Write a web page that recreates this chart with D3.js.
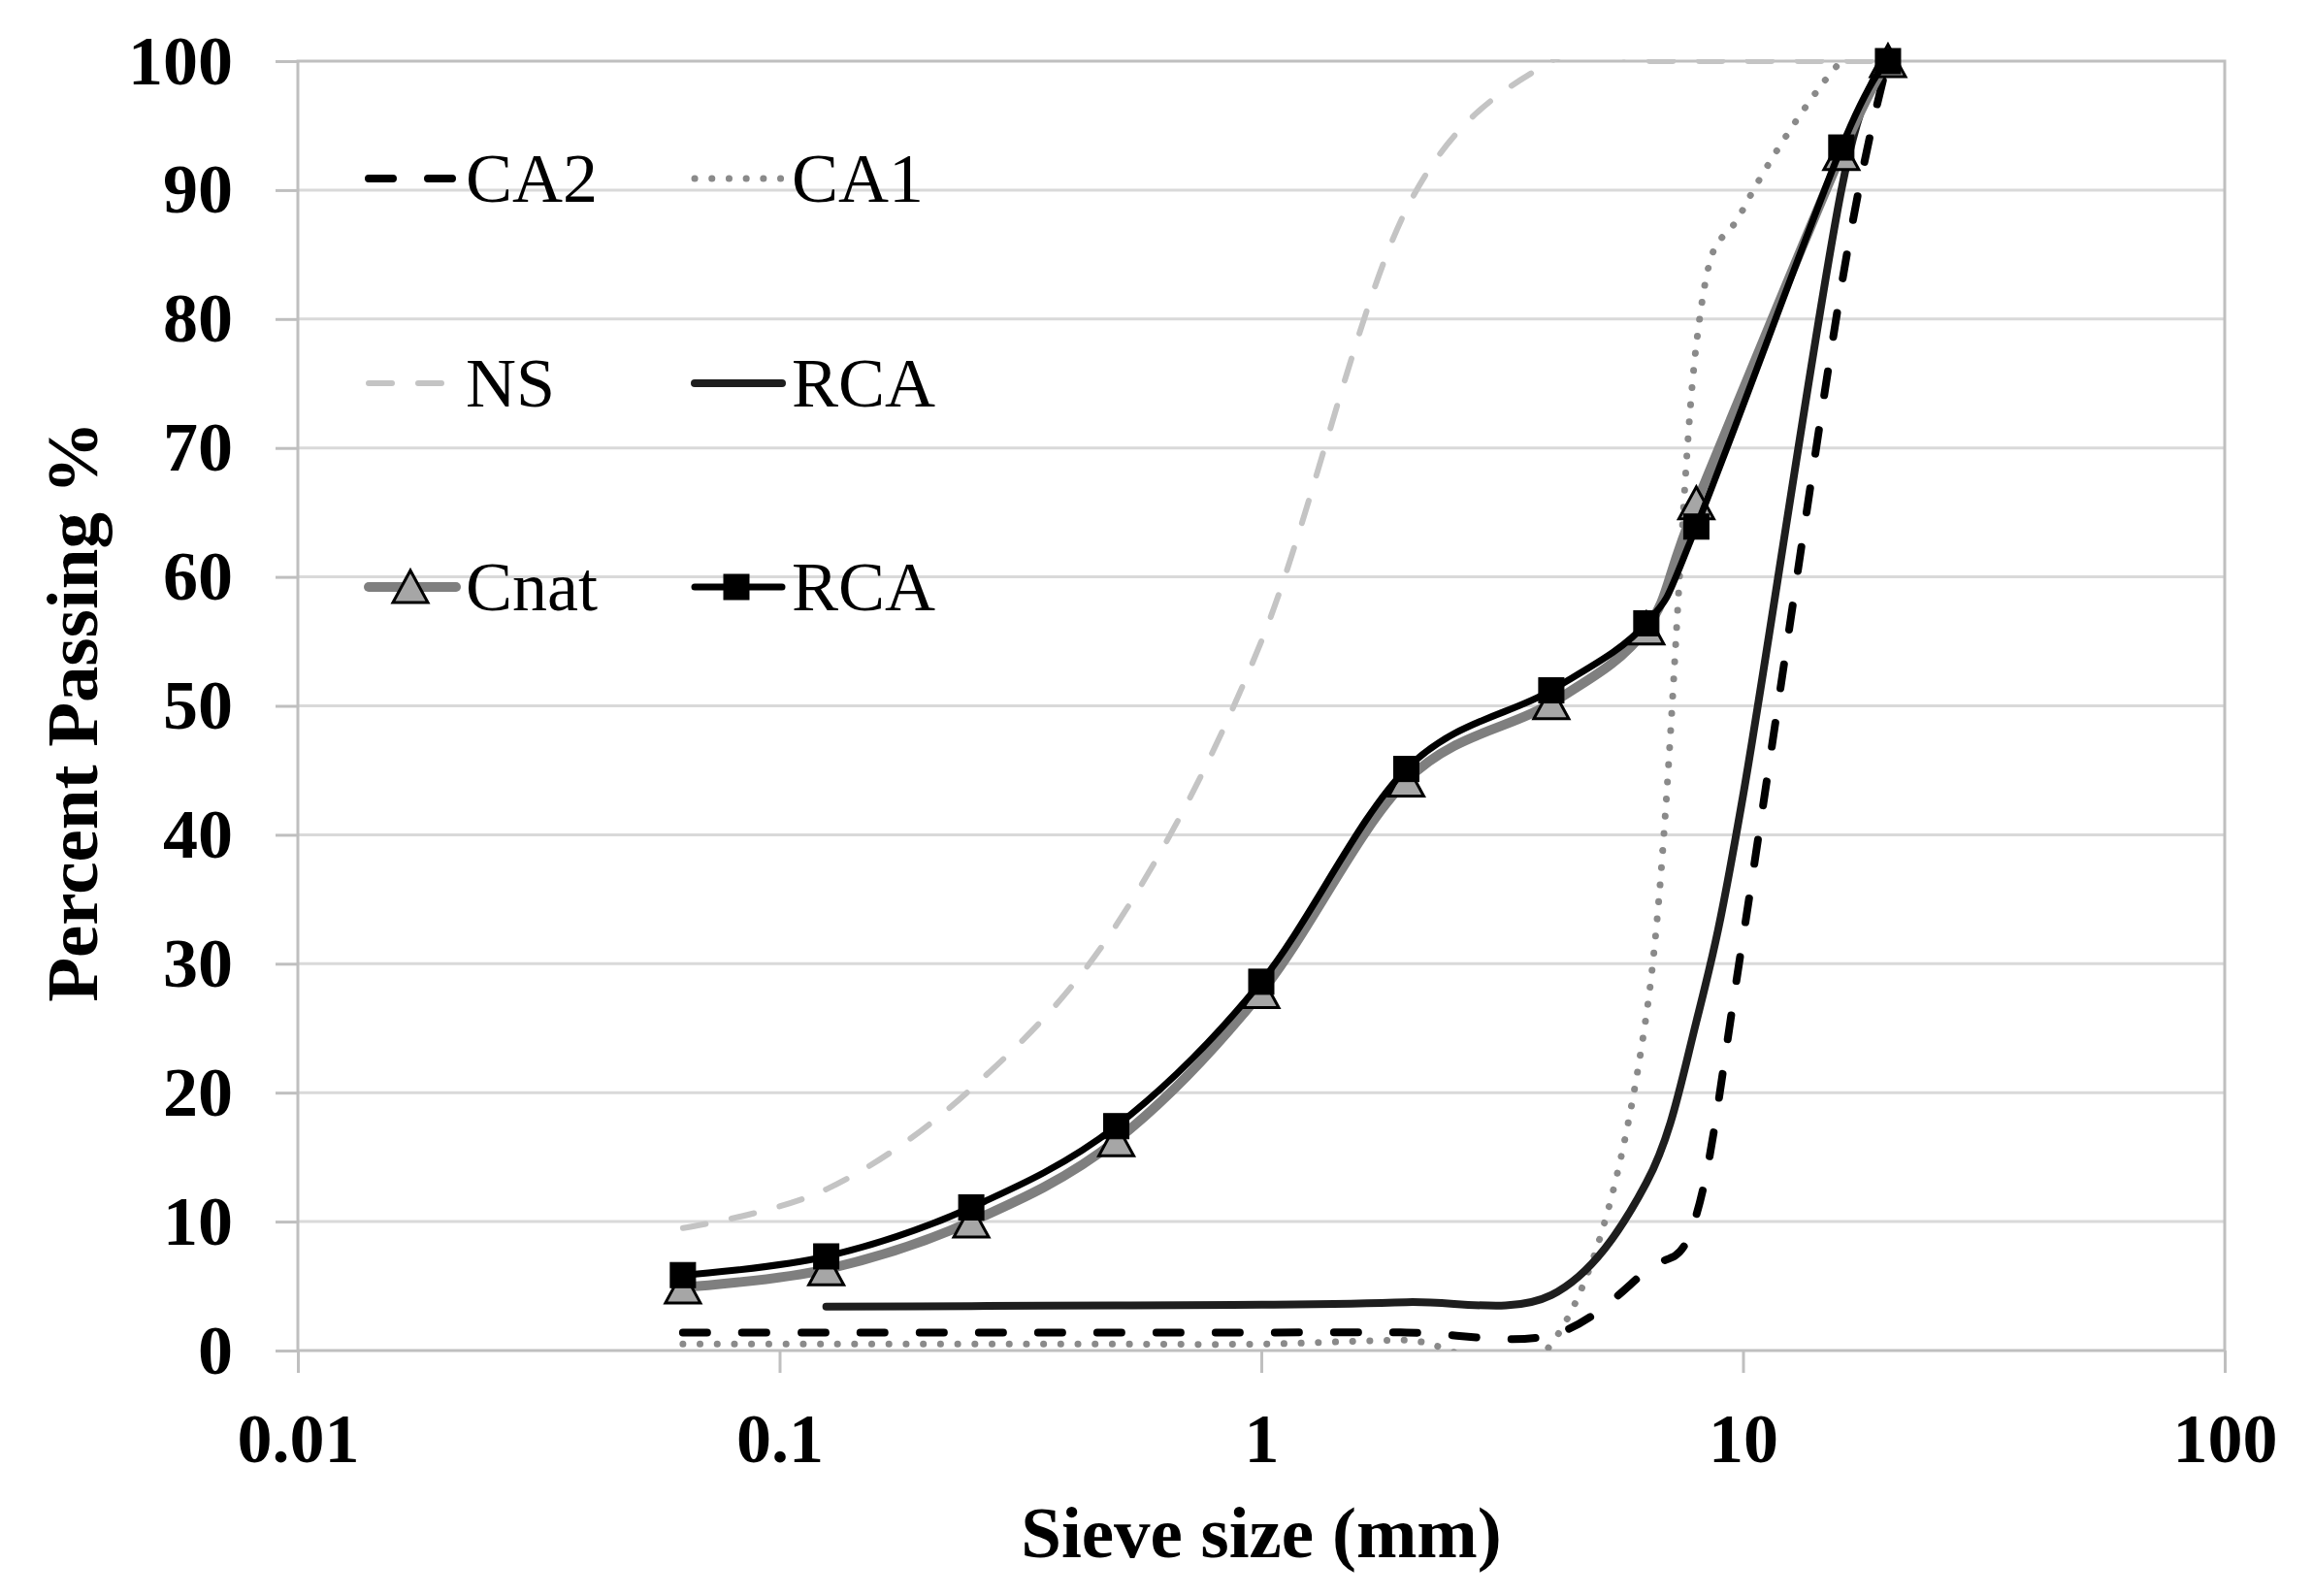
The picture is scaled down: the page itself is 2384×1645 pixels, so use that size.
<!DOCTYPE html>
<html>
<head>
<meta charset="utf-8">
<script src="https://cdn.jsdelivr.net/npm/d3@7"></script>
<style>
  body { margin: 0; background: #fff; }
  text { font-family: "Liberation Serif", "Times New Roman", serif; }
</style>
</head>
<body>
<div id="chart"></div>
<script>
// sieve openings (mm)
const sieveFine = [0.063, 0.125, 0.25, 0.5, 1, 2, 4, 6.3, 8, 10, 16, 20];
const sieveRca = [0.125, 0.25, 0.5, 1, 2, 4, 6.3, 8, 10, 16, 20];
const sieveMix = [0.063, 0.125, 0.25, 0.5, 1, 2, 4, 6.3, 8, 16, 20];

// percent passing
const ca2 = [1.4, 1.4, 1.4, 1.4, 1.4, 1.4, 1.2, 6.2, 10.5, 32, 82.5, 100];
const ca1 = [0.5, 0.5, 0.5, 0.5, 0.5, 0.8, 0.5, 26, 78, 88.5, 100, 100];
const ns = [9.5, 12.5, 20.3, 33, 55, 88.5, 100, 100, 100, 100, 100, 100];
const rca = [3.4, 3.45, 3.5, 3.55, 3.75, 4.3, 13, 25.5, 43, 90, 100];
const cnat = [4.9, 6.3, 10.0, 16.3, 27.8, 44.2, 50.2, 56, 65.7, 92.8, 100];
const rcaMix = [5.85, 7.3, 11.1, 17.4, 28.6, 45.1, 51.2, 56.4, 63.9, 93.3, 100];

const xTicks = [0.01, 0.1, 1, 10, 100];
const yTicks = [0, 10, 20, 30, 40, 50, 60, 70, 80, 90, 100];

const W = 2384, H = 1645;
const plotL = 307, plotR = 2293, plotT = 63, plotB = 1392;

const svg = d3.select("#chart").append("svg")
    .attr("width", W)
    .attr("height", H);
svg.append("rect").attr("width", W).attr("height", H).attr("fill", "#fff");

const x = d3.scaleLog().domain([0.01, 100]).range([plotL, plotR]);
const y = d3.scaleLinear().domain([0, 100]).range([plotB, plotT]);

// horizontal gridlines
svg.append("g").selectAll("line")
    .data(yTicks.filter(d => d > 0 && d < 100))
    .join("line")
    .attr("x1", plotL).attr("x2", plotR)
    .attr("y1", d => y(d)).attr("y2", d => y(d))
    .attr("stroke", "#d9d9d9").attr("stroke-width", 3);

// plot border
svg.append("rect")
    .attr("x", plotL).attr("y", plotT)
    .attr("width", plotR - plotL).attr("height", plotB - plotT)
    .attr("fill", "none").attr("stroke", "#bfbfbf").attr("stroke-width", 3);

// axes
const gy = svg.append("g")
    .attr("transform", `translate(${plotL},0)`)
    .call(d3.axisLeft(y).tickValues(yTicks).tickSize(23).tickPadding(44));
gy.select(".domain").remove();
gy.selectAll("line").attr("stroke", "#bfbfbf").attr("stroke-width", 3);
gy.selectAll("text")
    .attr("font-size", 72).attr("font-weight", "bold").attr("fill", "#000");

const gx = svg.append("g")
    .attr("transform", `translate(0,${plotB})`)
    .call(d3.axisBottom(x).tickValues(xTicks).tickFormat(d => String(d)).tickSize(23).tickPadding(41));
gx.select(".domain").remove();
gx.selectAll("line").attr("stroke", "#bfbfbf").attr("stroke-width", 3);
gx.selectAll("text")
    .attr("font-size", 72).attr("font-weight", "bold").attr("fill", "#000");

// axis titles
svg.append("text")
    .attr("x", (plotL + plotR) / 2).attr("y", 1605)
    .attr("text-anchor", "middle")
    .attr("font-size", 75).attr("font-weight", "bold")
    .text("Sieve size (mm)");
svg.append("text")
    .attr("transform", `translate(100,${(plotT + plotB) / 2 + 6}) rotate(-90)`)
    .attr("text-anchor", "middle")
    .attr("font-size", 75).attr("font-weight", "bold")
    .text("Percent Passing %");

// series
const series = [
    { name: "CA2", sizes: sieveFine, values: ca2, color: "#000", width: 8, dash: "25 36" },
    { name: "CA1", sizes: sieveFine, values: ca1, color: "#8a8a8a", width: 7, dash: "0.1 17.6" },
    { name: "NS", sizes: sieveFine, values: ns, color: "#c4c4c4", width: 6, dash: "24 27" },
    { name: "RCA", sizes: sieveRca, values: rca, color: "#1e1e1e", width: 8, dash: null },
    { name: "Cnat", sizes: sieveMix, values: cnat, color: "#7f7f7f", width: 10, dash: null, marker: "triangle" },
    { name: "RCA", sizes: sieveMix, values: rcaMix, color: "#000", width: 7, dash: null, marker: "square" }
];

// lines are cut at the plot area, like the spreadsheet does
svg.append("clipPath").attr("id", "plotClip")
    .append("rect")
    .attr("x", plotL).attr("y", plotT - 2)
    .attr("width", plotR - plotL).attr("height", plotB - plotT + 2);

const line = d3.line()
    .x(d => x(d[0]))
    .y(d => y(d[1]))
    .curve(d3.curveCardinal.tension(0));

const trianglePath = "M0,-17L18,16L-18,16Z";

function drawMarker(g, type, cx, cy) {
    if (type === "triangle") {
        g.append("path")
            .attr("d", trianglePath)
            .attr("transform", `translate(${cx},${cy})`)
            .attr("fill", "#a6a6a6").attr("stroke", "#000").attr("stroke-width", 3)
            .attr("stroke-linejoin", "miter");
    } else if (type === "square") {
        g.append("rect")
            .attr("x", cx - 13).attr("y", cy - 13)
            .attr("width", 26).attr("height", 26)
            .attr("fill", "#000").attr("stroke", "#000").attr("stroke-width", 1);
    }
}

const plot = svg.append("g");
series.forEach(s => {
    const pts = s.sizes.map((v, i) => [v, s.values[i]]);
    plot.append("path")
        .attr("clip-path", "url(#plotClip)")
        .attr("d", line(pts))
        .attr("fill", "none")
        .attr("stroke", s.color)
        .attr("stroke-width", s.width)
        .attr("stroke-linecap", "round")
        .attr("stroke-dasharray", s.dash);
    if (s.marker) {
        const gm = plot.append("g");
        pts.forEach(p => drawMarker(gm, s.marker, x(p[0]), y(p[1])));
    }
});

// legend: two columns, three rows
const legCols = [376, 712];
const legRows = [184, 395, 605];
const legend = svg.append("g");
series.forEach((s, i) => {
    const lx = legCols[i % 2], ly = legRows[Math.floor(i / 2)];
    const g = legend.append("g");
    g.append("line")
        .attr("x1", lx + 4).attr("x2", lx + 94)
        .attr("y1", ly).attr("y2", ly)
        .attr("stroke", s.color)
        .attr("stroke-width", s.width)
        .attr("stroke-linecap", "round")
        .attr("stroke-dasharray", s.dash);
    if (s.marker) drawMarker(g, s.marker, lx + 47, ly);
    g.append("text")
        .attr("x", lx + 104).attr("y", ly + 24)
        .attr("font-size", 72)
        .text(s.name);
});
</script>
</body>
</html>
